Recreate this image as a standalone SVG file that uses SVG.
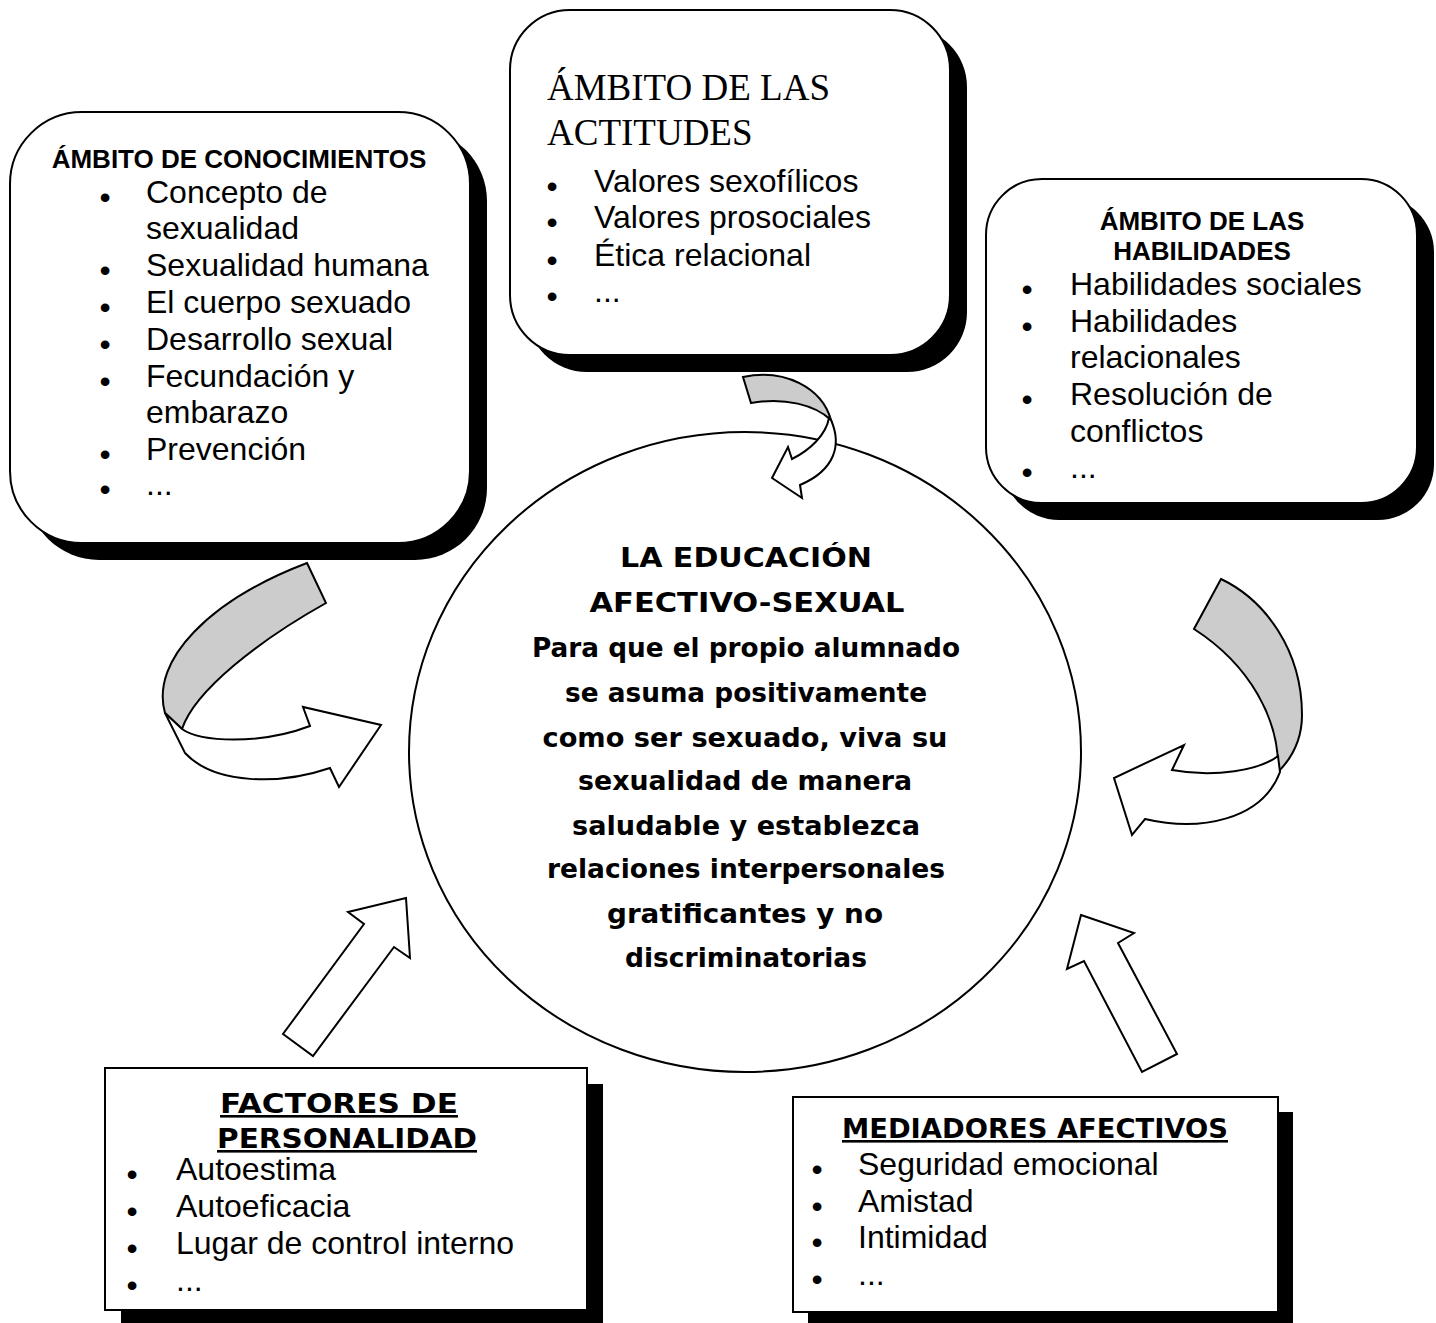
<svg xmlns="http://www.w3.org/2000/svg" width="1436" height="1323" viewBox="0 0 1436 1323">
<style>
.box{fill:#fff;stroke:#000;stroke-width:2}
.shadow{fill:#000}
.arrowW{fill:#fff;stroke:#000;stroke-width:2;stroke-linejoin:miter}
.arrowG{fill:#ccc;stroke:#000;stroke-width:2}
.item{font-family:"Liberation Sans",Arial,sans-serif;font-size:32px;fill:#000}
.bul{font-family:"Liberation Sans",Arial,sans-serif;font-size:32px;fill:#000;text-anchor:middle}
.hb{font-family:"Liberation Sans",Arial,sans-serif;font-weight:bold;font-size:26px;fill:#000;text-anchor:middle}
.hs{font-family:"Liberation Serif","Times New Roman",serif;font-size:37px;fill:#000}
.ht{font-family:"DejaVu Sans",Tahoma,sans-serif;font-weight:bold;font-size:26px;fill:#000;text-anchor:middle;text-decoration:underline}
.ct{font-family:"Comic Sans MS","DejaVu Sans",sans-serif;font-weight:bold;font-size:27px;fill:#000;text-anchor:middle}
</style>
<rect width="1436" height="1323" fill="#fff"/>

<g id="centro">
<ellipse cx="745" cy="752" rx="336" ry="320" fill="#fff" stroke="#000" stroke-width="2"/>
<text class="ct" x="746" y="567" textLength="252" lengthAdjust="spacingAndGlyphs">LA EDUCACIÓN</text>
<text class="ct" x="747" y="612" textLength="315" lengthAdjust="spacingAndGlyphs">AFECTIVO-SEXUAL</text>
<text class="ct" x="746" y="657" textLength="428" lengthAdjust="spacingAndGlyphs">Para que el propio alumnado</text>
<text class="ct" x="746" y="702" textLength="362" lengthAdjust="spacingAndGlyphs">se asuma positivamente</text>
<text class="ct" x="745" y="747" textLength="405" lengthAdjust="spacingAndGlyphs">como ser sexuado, viva su</text>
<text class="ct" x="745" y="790" textLength="334" lengthAdjust="spacingAndGlyphs">sexualidad de manera</text>
<text class="ct" x="746" y="835" textLength="348" lengthAdjust="spacingAndGlyphs">saludable y establezca</text>
<text class="ct" x="746" y="878" textLength="398" lengthAdjust="spacingAndGlyphs">relaciones interpersonales</text>
<text class="ct" x="745" y="923" textLength="276" lengthAdjust="spacingAndGlyphs">gratificantes y no</text>
<text class="ct" x="746" y="967" textLength="242" lengthAdjust="spacingAndGlyphs">discriminatorias</text>
</g>

<g id="conocimientos">
<rect class="shadow" x="27" y="129" width="460" height="431" rx="72" ry="72"/>
<rect class="box" x="10" y="112" width="460" height="431" rx="72" ry="72"/>
<text class="hb" x="239" y="168">ÁMBITO DE CONOCIMIENTOS</text>
<text class="bul" x="105" y="208">•</text><text class="item" x="146" y="203">Concepto de</text>
<text class="item" x="146" y="239">sexualidad</text>
<text class="bul" x="105" y="281">•</text><text class="item" x="146" y="276">Sexualidad humana</text>
<text class="bul" x="105" y="318">•</text><text class="item" x="146" y="313">El cuerpo sexuado</text>
<text class="bul" x="105" y="355">•</text><text class="item" x="146" y="350">Desarrollo sexual</text>
<text class="bul" x="105" y="392">•</text><text class="item" x="146" y="387">Fecundación y</text>
<text class="item" x="146" y="423">embarazo</text>
<text class="bul" x="105" y="465">•</text><text class="item" x="146" y="460">Prevención</text>
<text class="bul" x="105" y="500">•</text><text class="item" x="146" y="495">...</text>
</g>

<g id="actitudes">
<rect class="shadow" x="527" y="27" width="440" height="345" rx="60" ry="60"/>
<rect class="box" x="510" y="10" width="440" height="345" rx="60" ry="60"/>
<text class="hs" x="547" y="100">ÁMBITO DE LAS</text>
<text class="hs" x="547" y="145">ACTITUDES</text>
<text class="bul" x="552" y="197">•</text><text class="item" x="594" y="192">Valores sexofílicos</text>
<text class="bul" x="552" y="233">•</text><text class="item" x="594" y="228">Valores prosociales</text>
<text class="bul" x="552" y="271">•</text><text class="item" x="594" y="266">Ética relacional</text>
<text class="bul" x="552" y="307">•</text><text class="item" x="594" y="302">...</text>
</g>

<g id="habilidades">
<rect class="shadow" x="1003" y="196" width="431" height="324" rx="56" ry="56"/>
<rect class="box" x="986" y="179" width="431" height="324" rx="56" ry="56"/>
<text class="hb" x="1202" y="230">ÁMBITO DE LAS</text>
<text class="hb" x="1202" y="260">HABILIDADES</text>
<text class="bul" x="1027" y="300">•</text><text class="item" x="1070" y="295">Habilidades sociales</text>
<text class="bul" x="1027" y="337">•</text><text class="item" x="1070" y="332">Habilidades</text>
<text class="item" x="1070" y="368">relacionales</text>
<text class="bul" x="1027" y="410">•</text><text class="item" x="1070" y="405">Resolución de</text>
<text class="item" x="1070" y="442">conflictos</text>
<text class="bul" x="1027" y="483">•</text><text class="item" x="1070" y="478">...</text>
</g>

<g id="personalidad">
<rect class="shadow" x="121" y="1084" width="482" height="242"/>
<rect class="box" x="105" y="1068" width="482" height="242"/>
<text class="ht" x="339" y="1113" textLength="238" lengthAdjust="spacingAndGlyphs">FACTORES DE</text>
<text class="ht" x="347" y="1148" textLength="260" lengthAdjust="spacingAndGlyphs">PERSONALIDAD</text>
<text class="bul" x="132" y="1185">•</text><text class="item" x="176" y="1180">Autoestima</text>
<text class="bul" x="132" y="1222">•</text><text class="item" x="176" y="1217">Autoeficacia</text>
<text class="bul" x="132" y="1259">•</text><text class="item" x="176" y="1254">Lugar de control interno</text>
<text class="bul" x="132" y="1296">•</text><text class="item" x="176" y="1291">...</text>
</g>

<g id="mediadores">
<rect class="shadow" x="808" y="1112" width="485" height="215"/>
<rect class="box" x="793" y="1097" width="485" height="215"/>
<text class="ht" x="1035" y="1138" textLength="386" lengthAdjust="spacingAndGlyphs">MEDIADORES AFECTIVOS</text>
<text class="bul" x="817" y="1180">•</text><text class="item" x="858" y="1175">Seguridad emocional</text>
<text class="bul" x="817" y="1217">•</text><text class="item" x="858" y="1212">Amistad</text>
<text class="bul" x="817" y="1253">•</text><text class="item" x="858" y="1248">Intimidad</text>
<text class="bul" x="817" y="1290">•</text><text class="item" x="858" y="1285">...</text>
</g>

<g id="conectores">
<path class="arrowG" d="M743,377 C785,368 822,388 831,420 C815,405 785,397 751,403 Z"/>
<path class="arrowW" d="M831,420 C842,445 835,470 800,485 L802,498 L772,478 L788,447 L792,459 C810,450 826,435 829,418 Z"/>
<path class="arrowG" d="M307,563 L326,603 C260,640 195,690 182,729 L165,713 C150,660 210,600 307,563 Z"/>
<path class="arrowW" d="M165,713 L185,753 C215,785 280,785 330,768 L339,787 L381,725 L303,707 L310,726 C260,745 200,742 182,729 Z"/>
<path class="arrowG" d="M1221,579 L1194,629 C1250,665 1280,720 1278,772 C1292,758 1302,740 1302,715 C1302,650 1265,600 1221,579 Z"/>
<path class="arrowW" d="M1278,756 C1260,770 1215,778 1172,770 L1184,745 L1114,778 L1132,835 L1145,819 C1200,832 1262,820 1280,772 Z"/>
<path class="arrowW" d="M283,1034 L313,1056 L394,947 L410,958 L406,898 L348,912 L364,924 Z"/>
<path class="arrowW" d="M1081,915 L1134,933 L1118,943 L1177,1054 L1142,1072 L1084,961 L1067,969 Z"/>
</g>
</svg>
